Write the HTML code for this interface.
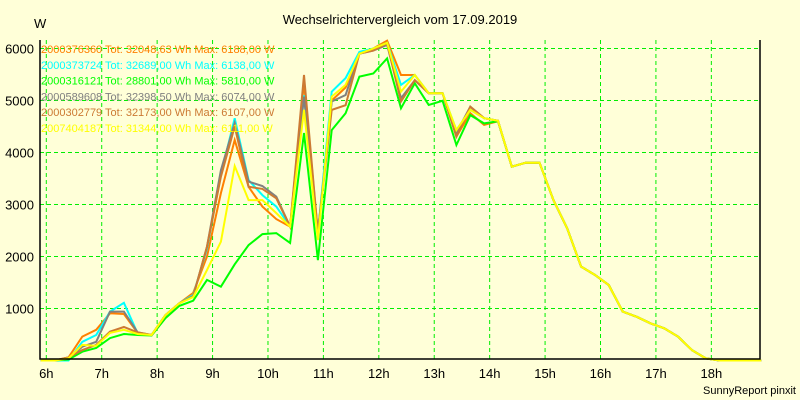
<!DOCTYPE html>
<html><head><meta charset="utf-8"><style>
body{margin:0;background:#ffffd8;}
svg{display:block;font-family:"Liberation Sans",sans-serif;}
</style></head><body>
<svg id="chart" width="800" height="400">
<rect x="0" y="0" width="800" height="400" fill="#ffffd8"/>
<text x="400" y="24" text-anchor="middle" font-size="13" fill="#000">Wechselrichtervergleich vom 17.09.2019</text>
<text x="34" y="28" font-size="13" fill="#000">W</text>
<text x="796" y="394" text-anchor="end" font-size="11" fill="#000">SunnyReport pinxit</text>
<g id="grid"></g>
<g id="yticks"></g>
<g id="xticks"></g>
<g id="series"></g>
<g id="legend"></g>
<path d="M40 40 V359 H760 V40" fill="none" stroke="#000" stroke-width="1.5"/>
</svg>
<script>
const yTicks = [1000, 2000, 3000, 4000, 5000, 6000];
const xHours = [6, 7, 8, 9, 10, 11, 12, 13, 14, 15, 16, 17, 18];
const times = [];
for (let k = 0; k <= 52; k++) times.push(5.9 + 0.25 * k);
const seriesNames = ["2000376360","2000373724","2000316121","2000589608","2000302779","2007404187"];
const seriesTotals = ["32048,63","32689,00","28801,00","32398,50","32173,00","31344,00"];
const seriesMax = ["6188,00","6138,00","5810,00","6074,00","6107,00","6111,00"];
const tail = [3727,3804,3804,3087,2540,1805,1645,1450,940,842,715,620,458,200,40,0,0,0,0];
const sOrange = [0,0,60,460,590,907,895,530,490,875,1100,1300,2000,3220,4240,3340,2960,2720,2575,5350,2450,5000,5250,5900,6000,6150,5490,5490,5140,5140,4305,4755,4530,4600].concat(tail);
const sCyan   = [0,0,0,360,490,940,1110,520,490,875,1100,1260,2150,3580,4660,3470,3180,2960,2575,5100,2450,5170,5430,5935,6000,6110,5300,5490,5140,5140,4430,4820,4660,4610].concat(tail);
const sGreen  = [0,0,20,170,240,430,510,490,480,815,1050,1150,1550,1420,1850,2220,2430,2450,2260,4375,1930,4430,4755,5460,5520,5810,4850,5330,4915,4995,4145,4720,4560,4600].concat(tail);
const sGray   = [0,0,40,265,360,940,940,540,490,875,1100,1240,2190,3660,4565,3440,3355,3150,2575,5075,2450,4980,5105,5900,5960,6070,5045,5390,5140,5140,4380,4880,4660,4610].concat(tail);
const sBrown  = [0,0,60,200,300,555,645,540,490,875,1100,1230,2190,3535,4500,3340,3300,3120,2575,5490,2450,4820,4910,5900,5960,6100,4980,5390,5140,5140,4305,4880,4660,4610].concat(tail);
const sYellow = [0,0,40,300,280,530,590,510,490,875,1100,1220,1740,2285,3740,3085,3085,2835,2575,4820,2315,5075,5300,5900,6000,6110,5170,5490,5140,5140,4430,4820,4660,4610].concat(tail);
const seriesColors = ["#ff8000","#00ffff","#00ff00","#808080","#cc7a33","#ffff00"];
const seriesData = [sOrange, sCyan, sGreen, sGray, sBrown, sYellow];

const NS = "http://www.w3.org/2000/svg";
function xS(h){ return 46.3 + (h - 6) * 55.42; }
function yS(v){ return 360.5 - v * 0.052; }
function mk(tag, attrs, parent){
  const e = document.createElementNS(NS, tag);
  for (const k in attrs) e.setAttribute(k, attrs[k]);
  parent.appendChild(e);
  return e;
}
const grid = document.getElementById('grid');
const yt = document.getElementById('yticks');
const xt = document.getElementById('xticks');
yTicks.forEach(v => {
  const l = mk('line', {x1:40, x2:760, y1:yS(v), y2:yS(v), stroke:'#00ee00', 'stroke-dasharray':'4,3', 'stroke-width':1}, grid);
  
  
  const t = mk('text', {x:34, y:yS(v)+5, 'text-anchor':'end', 'font-size':13, fill:'#000'}, yt);
  t.textContent = v;
  
  
});
xHours.forEach(h => {
  const l = mk('line', {x1:xS(h), x2:xS(h), y1:40, y2:359, stroke:'#00ee00', 'stroke-dasharray':'4,3', 'stroke-width':1}, grid);
  
  
  const t = mk('text', {x:xS(h), y:378, 'text-anchor':'middle', 'font-size':13, fill:'#000'}, xt);
  t.textContent = h + 'h';
  
  
});
const sg = document.getElementById('series');
seriesData.forEach((arr, i) => {
  const pts = arr.map((v, k) => xS(times[k]).toFixed(1) + ',' + yS(v).toFixed(1)).join(' ');
  const p = mk('polyline', {points:pts, fill:'none', stroke:seriesColors[i], 'stroke-width':2, 'stroke-linejoin':'miter'}, sg);
  
  
});
const lg = document.getElementById('legend');
seriesNames.forEach((n, i) => {
  const t = mk('text', {x:41, y:53 + i * 15.8, 'font-size':11, fill:seriesColors[i]}, lg);
  t.textContent = n + ' Tot: ' + seriesTotals[i] + ' Wh Max: ' + seriesMax[i] + ' W';
  
  
});
</script>
</body></html>
